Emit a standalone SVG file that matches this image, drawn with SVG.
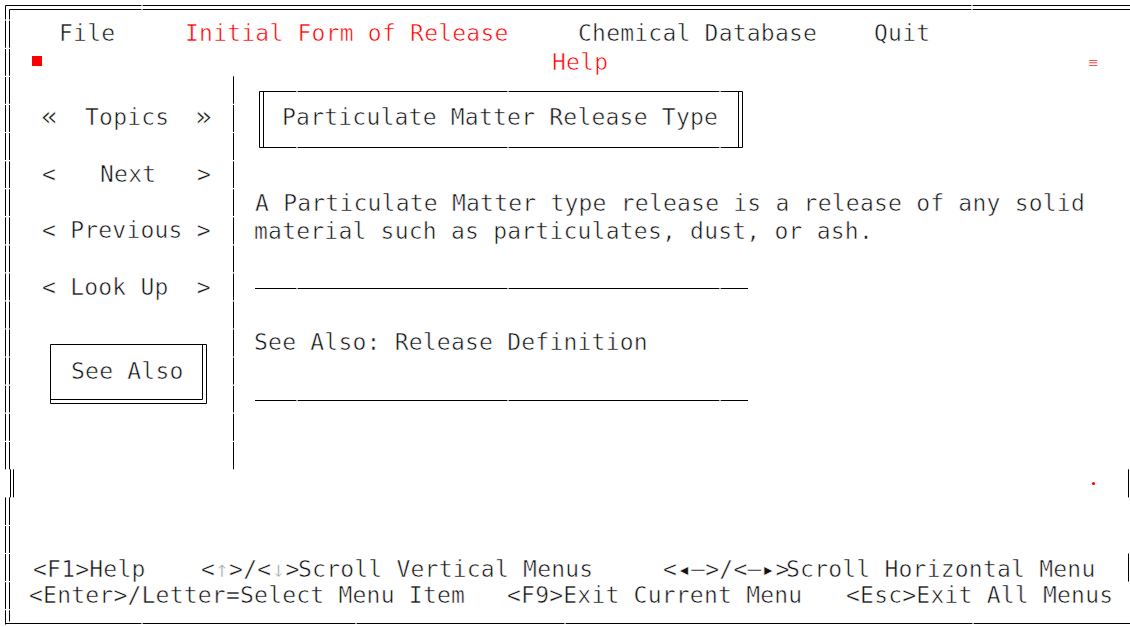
<svg xmlns="http://www.w3.org/2000/svg" width="1130" height="627" viewBox="0 0 1130 627" xml:space="preserve">
<style>
.t { font-family: "DejaVu Sans Mono", "Liberation Mono", monospace; font-size: 23px; letter-spacing: 0.22px; fill: #111; stroke: #fff; stroke-width: 0.55px; white-space: pre; }
.r { fill: #ff0000; }
.g { fill: #a8a8a8; }
.q { font-size: 28px; letter-spacing: 0; }
.ln { stroke: #000; stroke-width: 1; fill: none; }
.gap { stroke: #fff; stroke-width: 1.2; fill: none; }
</style>
<rect x="0" y="0" width="1130" height="627" fill="#fff"/>

<g id="frame">
  <path class="ln" d="M5.5 5.5 H1130 M9.5 9.5 H1130"/>
  <path class="ln" d="M5.5 5.5 V469.3 M9.5 9.5 V469.3 M10.5 469.3 V497.4 M13.5 469.3 V497.4 M5.5 497.4 V624.5 M9.5 497.4 V621.5"/>
  <path class="ln" d="M5.5 623.5 H1130"/>
  <path class="ln" d="M1128.5 469.3 V497.4 M1128.5 553.5 V581.6"/>
  <path class="ln" d="M233.5 76.3 V469.3"/>
  <path class="gap" d="M3 20.2 H16 M3 48.3 H16 M3 76.3 H16 M3 104.4 H16 M3 132.5 H16 M3 160.6 H16 M3 188.6 H16 M3 216.7 H16 M3 244.8 H16 M3 272.8 H16 M3 300.9 H16 M3 329 H16 M3 357 H16 M3 385.1 H16 M3 413.2 H16 M3 441.3 H16 M3 525.5 H16 M3 553.5 H16 M3 581.6 H16 M3 609.7 H16"/>
  <path class="gap" d="M231 104.4 H236 M231 132.5 H236 M231 160.6 H236 M231 188.6 H236 M231 216.7 H236 M231 244.8 H236 M231 272.8 H236 M231 300.9 H236 M231 329 H236 M231 357 H236 M231 385.1 H236 M231 413.2 H236 M231 441.3 H236"/>
  <path class="gap" d="M142 3 V12 M972 3 V12 M142 621 V626 M356 621 V626 M565 621 V626 M973 621 V626"/>
</g>

<g id="menubar">
  <text class="t" x="59" y="41">File</text>
  <text class="t r" x="185" y="41">Initial Form of Release</text>
  <text class="t" x="578" y="41">Chemical Database</text>
  <text class="t" x="874" y="41">Quit</text>
</g>

<g id="help-title">
  <rect x="32" y="56" width="10" height="10" fill="#ff0000"/>
  <text class="t r" x="552" y="70">Help</text>
  <text x="1088" y="67" font-family="DejaVu Sans, sans-serif" font-size="13px" fill="#ff5050">≡</text>
  <circle cx="1093.5" cy="483.5" r="1.6" fill="#ff0000"/>
</g>

<g id="nav">
  <text class="t q" x="41" y="126">«</text>
  <text class="t" x="85" y="125">Topics</text>
  <text class="t q" x="195" y="126">»</text>
  <text class="t" x="42" y="182">&lt;</text>
  <text class="t" x="100" y="182">Next</text>
  <text class="t" x="197" y="182">&gt;</text>
  <text class="t" x="42" y="238">&lt; Previous &gt;</text>
  <text class="t" x="42" y="295">&lt; Look Up  &gt;</text>
</g>

<g id="see-also-button">
  <path class="ln" d="M50.5 344.5 H206.5 M50.5 344.5 V403.5 M202.5 344.5 V399.5 M206.5 344.5 V403.5 M50.5 399.5 H202.5 M50.5 403.5 H206.5"/>
  <text class="t" x="71" y="379">See Also</text>
</g>

<g id="topic-title">
  <path class="ln" d="M259.5 91.5 H742.5 M259.5 147.5 H742.5 M259.5 91.5 V147.5 M263.5 91.5 V147.5 M738.5 91.5 V147.5 M742.5 91.5 V147.5"/>
  <path class="gap" d="M297 89 V94 M508 89 V94 M720 89 V94 M297 145 V150 M508 145 V150 M720 145 V150"/>
  <text class="t" x="282" y="125">Particulate Matter Release Type</text>
</g>

<g id="body">
  <text class="t" x="255" y="211">A Particulate Matter type release is a release of any solid</text>
  <text class="t" x="254" y="239">material such as particulates, dust, or ash.</text>
  <path class="ln" d="M255 288.5 H748 M255 400.5 H748"/>
  <path class="gap" d="M297 286 V291 M508 286 V291 M720 286 V291 M297 398 V403 M508 398 V403 M720 398 V403"/>
  <text class="t" x="254" y="350">See Also: Release Definition</text>
</g>

<g id="statusbar">
  <text class="t" x="33" y="577">&lt;F1&gt;Help</text>
  <text class="t" x="201 215.1 229.1 243.2 257.3 271.4 285.4" y="577">&lt;<tspan class="g">↑</tspan>&gt;/&lt;<tspan class="g">↓</tspan>&gt;</text>
  <text class="t" x="298" y="577">Scroll Vertical Menus</text>
  <text class="t" x="663 677.1 691.1 705.2 719.3 733.4 747.4 761.5 775.6" y="577">&lt;◂—&gt;/&lt;—▸&gt;</text>
  <text class="t" x="786" y="577">Scroll Horizontal Menu</text>
  <text class="t" x="29" y="603">&lt;Enter&gt;/Letter=Select Menu Item</text>
  <text class="t" x="507" y="603">&lt;F9&gt;Exit Current Menu</text>
  <text class="t" x="846" y="603">&lt;Esc&gt;Exit All Menus</text>
</g>
</svg>
